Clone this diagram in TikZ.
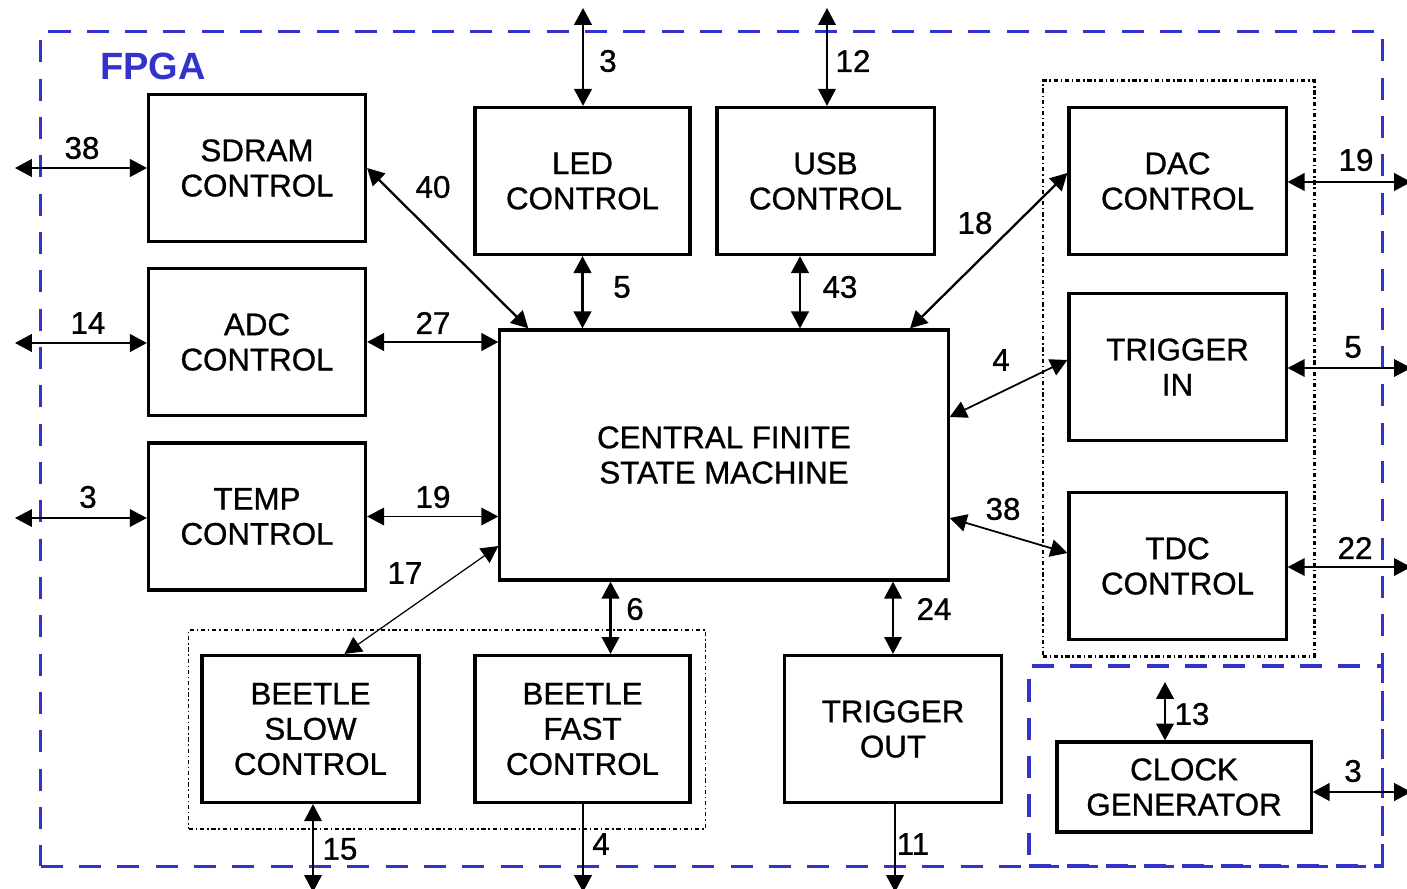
\documentclass[tikz,border=0pt]{standalone}
\usepackage{fontspec}
\setmainfont{Liberation Sans}
\newfontfamily\heavysans[FakeBold=0.9]{Liberation Sans}
\usepackage{tikz}
\usetikzlibrary{arrows.meta, positioning, calc}
\definecolor{fpgablue}{RGB}{51,51,204}
\tikzstyle{block} = [rectangle, draw=black, line width=0.9pt, minimum width=2.17cm, minimum height=1.47cm, align=center, font=\heavysans\fontsize{8.9}{10}\selectfont]
\tikzstyle{fpgaframe} = [rectangle, draw=fpgablue, line width=0.9pt, dash pattern=on 6.3pt off 4.6pt]
\tikzstyle{groupframe} = [rectangle, draw=black, line width=0.35pt, dash pattern=on 1.2pt off 0.8pt on 0.4pt off 0.8pt]
\tikzstyle{bus} = [line width=0.65pt, {Triangle[length=4.8pt,width=5pt]}-{Triangle[length=4.8pt,width=5pt]}]
\tikzstyle{thinbus} = [bus, line width=0.35pt]
\tikzstyle{outbus} = [line width=0.65pt, -{Triangle[length=4.8pt,width=5pt]}]
\tikzstyle{buswidth} = [font=\heavysans\fontsize{8.9}{10}\selectfont, inner sep=0pt]

\begin{document}
\begin{tikzpicture}[x=0.01cm, y=-0.01cm]
\useasboundingbox (0,0) rectangle (1407,888);

% ===== FRAMES =====
\node (fpga_box) [fpgaframe, minimum width=13.41cm, minimum height=8.34cm] at (711.5,449) {};
\node (fpga_label) [font=\fontsize{10.8}{12}\selectfont\bfseries, text=fpgablue] at (153,66) {FPGA};
\node (clock_box) [fpgaframe, minimum width=3.53cm, minimum height=2.00cm] at (1205.5,766) {};
\node (dac_group) [groupframe, line width=0.8pt, minimum width=2.71cm, minimum height=5.75cm] at (1178.5,368.5) {};
\node (beetle_group) [groupframe, minimum width=5.16cm, minimum height=1.99cm] at (447,729.5) {};

% ===== BLOCKS =====
\node (sdram) [block] at (257,168) {SDRAM\\CONTROL};
\node (adc) [block] at (257,342) {ADC\\CONTROL};
\node (temp) [block] at (257,516.5) {TEMP\\CONTROL};
\node (led) [block, minimum width=2.15cm] at (582.5,181) {LED\\CONTROL};
\node (usb) [block] at (825.5,181) {USB\\CONTROL};
\node (fsm) [block, minimum width=4.48cm, minimum height=2.50cm] at (724,455) {CENTRAL FINITE\\STATE MACHINE};
\node (dac) [block] at (1177.5,181) {DAC\\CONTROL};
\node (trigin) [block] at (1177.5,367) {TRIGGER\\IN};
\node (tdc) [block] at (1177.5,566) {TDC\\CONTROL};
\node (slow) [block] at (310.5,729) {BEETLE\\SLOW\\CONTROL};
\node (fast) [block, minimum width=2.15cm] at (582.5,729) {BEETLE\\FAST\\CONTROL};
\node (trigout) [block] at (893,729) {TRIGGER\\OUT};
\node (clock) [block, minimum width=2.54cm, minimum height=0.90cm] at (1184,787) {CLOCK\\GENERATOR};

% ===== PINS =====
\coordinate (sdram_pin) at (15,168);
\coordinate (adc_pin) at (15,343);
\coordinate (temp_pin) at (15,518);
\coordinate (led_pin) at (583,8);
\coordinate (usb_pin) at (827,8);
\coordinate (dac_pin) at (1411,182);
\coordinate (trigin_pin) at (1411,368);
\coordinate (tdc_pin) at (1411,567);
\coordinate (clock_pin) at (1411,792);
\coordinate (clock_top) at (1165,682);
\coordinate (slow_pin) at (313,892);
\coordinate (fast_pin) at (583,892);
\coordinate (trigout_pin) at (895,892);

% ===== ARROWS =====
% outside world
\draw [bus] (sdram_pin) -- (sdram_pin -| sdram.west);
\draw [bus] (adc_pin) -- (adc_pin -| adc.west);
\draw [thinbus] (temp_pin) -- (temp_pin -| temp.west);
\draw [bus] (led_pin) -- (led_pin |- led.north);
\draw [thinbus] (usb_pin) -- (usb_pin |- usb.north);
\draw [bus] (dac_pin) -- (dac_pin -| dac.east);
\draw [thinbus] (trigin_pin) -- (trigin_pin -| trigin.east);
\draw [thinbus] (tdc_pin) -- (tdc_pin -| tdc.east);
\draw [bus] (clock_pin) -- (clock_pin -| clock.east);
\draw [bus] (clock_top) -- (clock_top |- clock.north);
\draw [thinbus] (slow_pin |- slow.south) -- (slow_pin);
\draw [outbus] (fast_pin |- fast.south) -- (fast_pin);
\draw [outbus, line width=0.35pt] (trigout_pin |- trigout.south) -- (trigout_pin);

% blocks to central state machine
\draw [bus] (sdram.east) -- ([xshift=0.3cm]fsm.north west);
\draw [bus] (adc.east) -- (adc.east -| fsm.west);
\draw [thinbus] (temp.east) -- (temp.east -| fsm.west);
\draw [bus] (led.south) -- (led.south |- fsm.north);
\draw [bus] ([xshift=-0.255cm]usb.south) -- ([xshift=-0.255cm]usb.south |- fsm.north);
\draw [bus] ([xshift=1.86cm]fsm.north) -- ([yshift=0.08cm]dac.west);
\draw [bus, line width=0.5pt] ([yshift=0.38cm]fsm.east) -- ([yshift=0.07cm]trigin.west);
\draw [bus, line width=0.5pt] ([yshift=-0.63cm]fsm.east) -- ([yshift=0.13cm]tdc.west);
\draw [thinbus] ([yshift=-0.91cm]fsm.west) -- ([xshift=0.34cm]slow.north);
\draw [bus] ([xshift=0.28cm]fast.north) -- ([xshift=0.28cm]fast.north |- fsm.south);
\draw [thinbus] (trigout.north) -- (trigout.north |- fsm.south);

% ===== BUS WIDTHS =====
\node (w_sdram) [buswidth] at (82,148) {38};
\node (w_adc) [buswidth] at (88,323) {14};
\node (w_temp) [buswidth] at (88,497) {3};
\node (w_sdram_fsm) [buswidth] at (433,187) {40};
\node (w_adc_fsm) [buswidth] at (433,323) {27};
\node (w_temp_fsm) [buswidth] at (433,497) {19};
\node (w_slow_fsm) [buswidth] at (405,573) {17};
\node (w_led) [buswidth] at (608,61) {3};
\node (w_usb) [buswidth] at (853,61) {12};
\node (w_led_fsm) [buswidth] at (622,287) {5};
\node (w_usb_fsm) [buswidth] at (840,287) {43};
\node (w_dac_fsm) [buswidth] at (975,223) {18};
\node (w_trigin_fsm) [buswidth] at (1001,360) {4};
\node (w_tdc_fsm) [buswidth] at (1003,509) {38};
\node (w_fast_fsm) [buswidth] at (635,609) {6};
\node (w_trigout_fsm) [buswidth] at (934,609) {24};
\node (w_dac) [buswidth] at (1356,160) {19};
\node (w_trigin) [buswidth] at (1353,347) {5};
\node (w_tdc) [buswidth] at (1355,548) {22};
\node (w_clock) [buswidth] at (1353,771) {3};
\node (w_clock_top) [buswidth] at (1192,714) {13};
\node (w_slow) [buswidth] at (340,849) {15};
\node (w_fast) [buswidth] at (601,844) {4};
\node (w_trigout) [buswidth] at (913,844) {11};

\end{tikzpicture}
\end{document}
